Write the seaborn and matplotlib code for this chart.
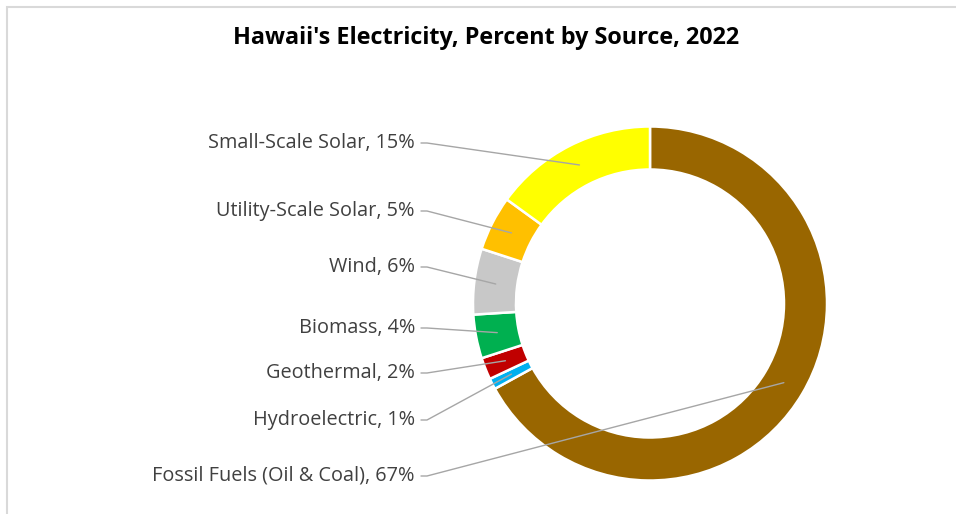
import numpy as np
import seaborn as sns
import matplotlib.pyplot as plt
from matplotlib.patches import Rectangle

# data (clockwise from 12 o'clock)
sources = ['Fossil Fuels (Oil & Coal)', 'Hydroelectric', 'Geothermal', 'Biomass',
           'Wind', 'Utility-Scale Solar', 'Small-Scale Solar']
percents = [67, 1, 2, 4, 6, 5, 15]
colors = ['#996600', '#00B0F0', '#C00000', '#00B050', '#C8C8C8', '#FFC000', '#FFFF00']

# label rows on the left (pixel y, top to bottom order of the picture)
label_y = {'Small-Scale Solar': 143, 'Utility-Scale Solar': 211, 'Wind': 267,
           'Biomass': 328, 'Geothermal': 373, 'Hydroelectric': 420,
           'Fossil Fuels (Oil & Coal)': 476}

sns.set_theme(style='white')
plt.rcParams['font.family'] = ['Open Sans', 'DejaVu Sans']

W, H = 956, 514
fig = plt.figure(figsize=(W / 100, H / 100), dpi=100)
ax = fig.add_axes([0, 0, 1, 1])

cx, cy, R = 650, H - 303.5, 177
ring = 43

wedges, _ = ax.pie(percents, colors=colors, startangle=90, counterclock=False,
                   center=(cx, cy), radius=R,
                   wedgeprops=dict(width=ring, edgecolor='white', linewidth=1.8))

ax.set_xlim(0, W)
ax.set_ylim(0, H)
ax.set_aspect('equal')
ax.axis('off')

# chart border like the Excel chart area
ax.add_patch(Rectangle((7, -10), W + 10, H - 7 + 10, fill=False,
                       edgecolor='#D9D9D9', linewidth=1.5, zorder=0))

ax.text(486, H - 38, "Hawaii's Electricity, Percent by Source, 2022",
        ha='center', va='center', fontsize=16.8, fontweight='bold', color='black')

# labels + leader lines
for w, name, pct in zip(wedges, sources, percents):
    mid = np.deg2rad((w.theta1 + w.theta2) / 2)
    r_mid = R - ring / 2
    px, py = cx + r_mid * np.cos(mid), cy + r_mid * np.sin(mid)
    ly = H - label_y[name]
    ax.text(415, ly, f'{name}, {pct}%', ha='right', va='center',
            fontsize=14.3, color='#404040')
    ax.plot([421, 427, px], [ly, ly, py], color='#A6A6A6', lw=1.0, zorder=5)

fig.savefig('out.png', dpi=100, facecolor='white')
